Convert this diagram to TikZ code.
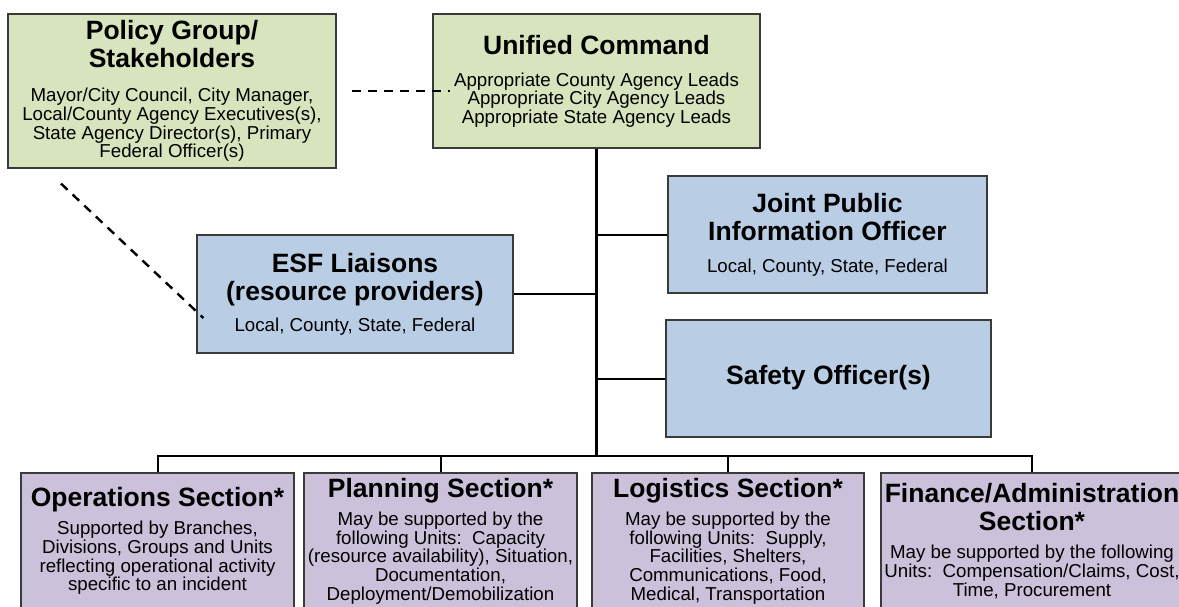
\documentclass[tikz,border=0pt]{standalone}
\usepackage{fontspec}
\setmainfont{Liberation Sans}
\usetikzlibrary{calc,positioning}

\definecolor{cmdgreen}{HTML}{D7E4BD}
\definecolor{staffblue}{HTML}{B9CDE5}
\definecolor{secpurple}{HTML}{CCC1DA}
\definecolor{boxline}{HTML}{3A3A3A}

\newcommand{\hd}[1]{{\fontsize{26.5}{28}\selectfont\bfseries\strut #1}}

\begin{document}
\begin{tikzpicture}[x=1pt, y=-1pt,
  box/.style={draw=boxline, line width=1.2pt, align=center, inner sep=2pt,
    font={\fontsize{18.7}{18.7}\selectfont\lineskip=0pt}},
  cmd/.style={box, fill=cmdgreen},
  staff/.style={box, fill=staffblue},
  sect/.style={box, fill=secpurple, minimum width=273, minimum height=136},
  link/.style={line width=2pt},
  dashlink/.style={line width=2.4pt, dash pattern=on 9pt off 7pt}]
  \useasboundingbox (0,0) rectangle (1179,606);
  \clip (0,0) rectangle (1179,606);

  % command level
  \node[cmd, minimum width=328, minimum height=154] (policy) at (172,91)
    {\hd{Policy Group/}\\ \hd{Stakeholders}\\[12pt]
     Mayor/City Council, City Manager,\\ Local/County Agency Executives(s),\\
     State Agency Director(s), Primary\\ Federal Officer(s)};
  \node[cmd, minimum width=327, minimum height=134] (unified) at (596.5,81)
    {\hd{Unified Command}\\[10pt]
     Appropriate County Agency Leads\\ Appropriate City Agency Leads\\
     Appropriate State Agency Leads};

  % staff
  \node[staff, minimum width=316, minimum height=118] (esf) at (355,294)
    {\hd{ESF Liaisons}\\ \hd{(resource providers)}\\[9pt]
     Local, County, State, Federal};
  \node[staff, minimum width=319, minimum height=117] (jpio) at (827.5,234.5)
    {\hd{Joint Public}\\ \hd{Information Officer}\\[10pt]
     Local, County, State, Federal};
  \node[staff, minimum width=325, minimum height=117] (safety) at (828.5,378.5)
    {\hd{Safety Officer(s)}};

  % sections
  \node[sect] (ops) at (157.5,541)
    {\hd{Operations Section*}\\[6pt]
     Supported by Branches,\\ Divisions, Groups and Units\\
     reflecting operational activity\\ specific to an incident};
  \node[sect] (plan) at (440.5,541)
    {\hd{Planning Section*}\\[6pt]
     May be supported by the\\ following Units:\ \ Capacity\\
     (resource availability), Situation,\\ Documentation,\\ Deployment/Demobilization};
  \node[sect, minimum width=272] (logi) at (728,541)
    {\hd{Logistics Section*}\\[6pt]
     May be supported by the\\ following Units:\ \ Supply,\\
     Facilities, Shelters,\\ Communications, Food,\\ Medical, Transportation};
  \node[sect, minimum width=302] (fin) at (1032,541)
    {\hd{Finance/Administration}\\ \hd{Section*}\\[6pt]
     May be supported by the following\\ Units:\ \ Compensation/Claims, Cost,\\
     Time, Procurement};

  % chain of command
  \coordinate (bus) at (596.5,456);
  \draw[link, line width=3pt] (unified.south) -- (bus);
  \draw[link] (esf.east) -- (esf.east -| bus);
  \draw[link] (jpio.west) -- (jpio.west -| bus);
  \draw[link] (safety.west) -- (safety.west -| bus);
  \foreach \s in {ops,plan,logi,fin}
    \draw[link] (\s.north) |- (bus);

  % coordination (dashed)
  \draw[dashlink] ([xshift=15pt]policy.east) -- ([xshift=18pt]policy.east -| unified.west);
  \draw[dashlink] ([shift={(-111,15)}]policy.south) -- ([shift={(7,24)}]esf.west);
\end{tikzpicture}
\end{document}
